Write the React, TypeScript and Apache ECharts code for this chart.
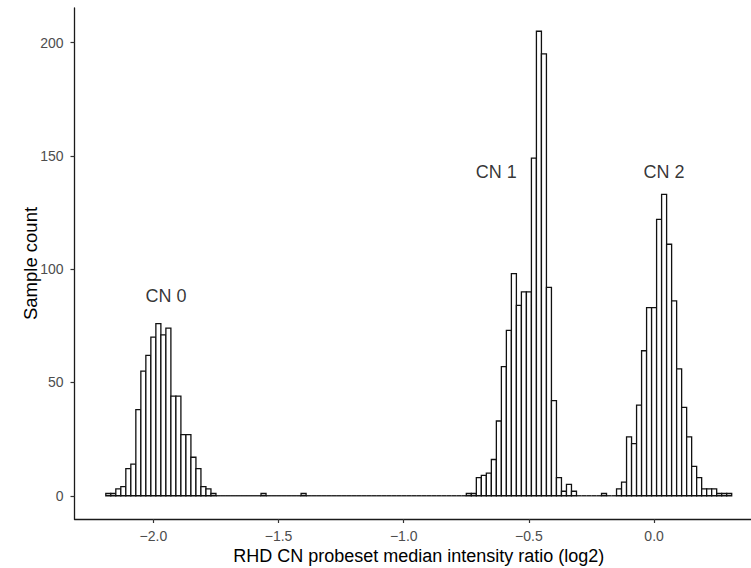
import React, { useEffect, useRef } from "react";
import * as echarts from "echarts";

// Histogram bins: first bin centre and bin width (log2 ratio units)
const binStart = -2.18;
const binWidth = 0.02;
// Sample counts per bin, from -2.18 to 0.30
const counts = [
  // CN 0 : -2.18 .. -1.76
  1, 1, 3, 4, 12, 14, 38, 55, 62, 70, 76, 71, 74, 44, 44, 27, 27, 17, 12, 4, 3, 1,
  // gap : -1.74 .. -0.76
  0, 0, 0, 0, 0, 0, 0, 0, 0, 1, 0, 0, 0, 0, 0, 0, 0, 1, 0, 0,
  0, 0, 0, 0, 0, 0, 0, 0, 0, 0, 0, 0, 0, 0, 0, 0, 0, 0, 0, 0,
  0, 0, 0, 0, 0, 0, 0, 0, 0, 0,
  // CN 1 : -0.74 .. -0.32
  1, 1, 8, 9, 10, 16, 33, 57, 73, 98, 84, 90, 90, 149, 205, 195, 92, 42, 8, 2, 5, 2,
  // gap : -0.30 .. -0.16
  0, 0, 0, 0, 0, 1, 0, 0,
  // CN 2 : -0.14 .. 0.30
  3, 6, 26, 23, 40, 64, 83, 83, 122, 133, 111, 86, 56, 39, 26, 13, 8, 3, 3, 3, 1, 1, 1,
];

const xTicks = [-2, -1.5, -1, -0.5, 0];
const yTicks = [0, 50, 100, 150, 200];
const annotationLabels = ["CN 0", "CN 1", "CN 2"];
const annotationX = [-1.95, -0.63, 0.04];
const annotationY = [88, 143, 143];

const FONT = "'Liberation Sans', Arial, Helvetica, sans-serif";

export default function App() {
  const ref = useRef<HTMLDivElement>(null);
  useEffect(() => {
    if (!ref.current) return;
    const chart = echarts.init(ref.current, null, { renderer: "svg" });
    const bins = counts.map((c, i) => [binStart + i * binWidth, c]);
    const axisLineStyle = { color: "#1a1a1a", width: 1.3 };
    chart.setOption({
      animation: false,
      backgroundColor: "#ffffff",
      grid: {
        left: 74.5,
        top: 8,
        right: -12,
        bottom: 49,
        containLabel: false,
        outerBoundsMode: "none",
      },
      xAxis: {
        type: "value",
        min: -2.315,
        max: 0.435,
        axisLine: { show: true, onZero: false, lineStyle: axisLineStyle },
        axisTick: { show: true, customValues: xTicks, length: 4, lineStyle: { color: "#333", width: 1.2 } },
        axisLabel: {
          customValues: xTicks,
          formatter: (v: number) => v.toFixed(1).replace("-", "\u2212"),
          color: "#4d4d4d",
          fontSize: 14,
          fontFamily: FONT,
          margin: 10,
        },
        splitLine: { show: false },
        name: "RHD CN probeset median intensity ratio (log2)",
        nameLocation: "middle",
        nameGap: 28,
        nameMoveOverlap: false,
        nameTextStyle: { color: "#000", fontSize: 18, fontFamily: FONT },
      },
      yAxis: {
        type: "value",
        min: -10.25,
        max: 215.25,
        axisLine: { show: true, onZero: false, lineStyle: axisLineStyle },
        axisTick: { show: true, customValues: yTicks, length: 4, lineStyle: { color: "#333", width: 1.2 } },
        axisLabel: {
          customValues: yTicks,
          formatter: (v: number) => String(v),
          color: "#4d4d4d",
          fontSize: 14,
          fontFamily: FONT,
          margin: 11,
        },
        splitLine: { show: false },
        name: "Sample count",
        nameLocation: "middle",
        nameGap: 35,
        nameMoveOverlap: false,
        nameTextStyle: { color: "#000", fontSize: 18.5, fontFamily: FONT },
      },
      series: [
        {
          type: "custom",
          data: bins,
          encode: { x: 0, y: 1 },
          renderItem: (params: any, api: any) => {
            const x = api.value(0);
            const c = api.value(1);
            const p1 = api.coord([x - binWidth / 2, c]);
            const p2 = api.coord([x + binWidth / 2, 0]);
            if (c === 0) {
              return {
                type: "line",
                shape: { x1: p1[0], y1: p2[1], x2: p2[0], y2: p2[1] },
                style: { stroke: "#111", lineWidth: 1.3 },
              };
            }
            return {
              type: "rect",
              shape: { x: p1[0], y: p1[1], width: p2[0] - p1[0], height: p2[1] - p1[1] },
              style: { fill: "#ffffff", stroke: "#111", lineWidth: 1.3 },
            };
          },
        },
        {
          type: "scatter",
          symbolSize: 0,
          silent: true,
          data: annotationLabels.map((n, i) => ({ name: n, value: [annotationX[i], annotationY[i]] })),
          label: {
            show: true,
            position: "inside",
            formatter: "{b}",
            color: "#000",
            fontSize: 18,
            fontFamily: FONT,
          },
        },
      ],
    });
    return () => chart.dispose();
  }, []);
  return (
    <div
      ref={ref}
      style={{ position: "fixed", left: 0, top: 0, width: 751, height: 568, background: "#fff" }}
    />
  );
}
